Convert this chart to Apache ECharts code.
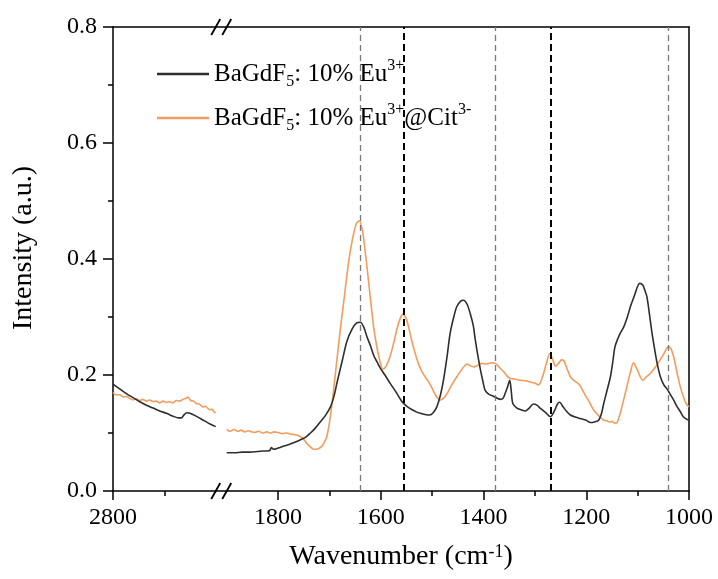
<!DOCTYPE html>
<html>
<head>
<meta charset="utf-8">
<script src="https://cdn.jsdelivr.net/npm/echarts@6/dist/echarts.min.js"></script>
<style>
  html, body { margin: 0; padding: 0; background: #fff; }
  #chart { width: 718px; height: 579px; }
</style>
</head>
<body>
<div id="chart"></div>
<script>
// ---- axis ticks and reference lines (cm^-1) ----
const highTicks = [2800];
const lowTicks = [1000, 1200, 1400, 1600, 1800];
const lowMinorTicks = [1100, 1300, 1500, 1700];
const greyBands = [1640, 1377, 1040];
const blackBands = [1556, 1270];

// ---- legend entries ----
const seriesNames = ['BaGdF5: 10% Eu3+', 'BaGdF5: 10% Eu3+@Cit3-'];
const legendLabels = ['BaGdF{sub|5}: 10% Eu{sup|3+}', 'BaGdF{sub|5}: 10% Eu{sup|3+}@Cit{sup|3-}'];

// ---- BaGdF5: 10% Eu3+ spectrum, [wavenumber, intensity] ----
const bareHigh = [
  [2800, 0.184], [2787, 0.176], [2774, 0.168], [2761, 0.161], [2748, 0.154], [2735, 0.148],
  [2722, 0.143], [2709, 0.138], [2696, 0.134], [2683, 0.129], [2672, 0.126], [2667, 0.126],
  [2662, 0.131], [2656, 0.135], [2650, 0.134], [2640, 0.130], [2630, 0.125], [2620, 0.120],
  [2610, 0.115], [2600, 0.111]
];
const bareLow = [
  [1900, 0.066], [1885, 0.066], [1870, 0.067], [1855, 0.067], [1840, 0.068], [1828, 0.069],
  [1820, 0.069], [1816, 0.070], [1813, 0.075], [1809, 0.072], [1800, 0.074], [1790, 0.077],
  [1783, 0.079], [1770, 0.083], [1757, 0.088], [1746, 0.093], [1737, 0.100], [1728, 0.108],
  [1718, 0.119], [1708, 0.130], [1698, 0.145], [1691, 0.164], [1685, 0.188], [1675, 0.225],
  [1666, 0.258], [1656, 0.279], [1647, 0.290], [1640, 0.291], [1633, 0.282], [1627, 0.266],
  [1620, 0.250], [1614, 0.234], [1607, 0.222], [1601, 0.212], [1592, 0.200], [1582, 0.186],
  [1570, 0.170], [1557, 0.152], [1548, 0.145], [1539, 0.140], [1530, 0.136], [1523, 0.134],
  [1514, 0.132], [1505, 0.131], [1498, 0.135], [1491, 0.145], [1484, 0.165], [1478, 0.191],
  [1471, 0.232], [1465, 0.272], [1458, 0.300], [1452, 0.318], [1445, 0.327], [1439, 0.329],
  [1432, 0.322], [1426, 0.306], [1420, 0.285], [1416, 0.260], [1411, 0.233], [1406, 0.209],
  [1401, 0.188], [1397, 0.174], [1390, 0.167], [1380, 0.163], [1367, 0.158], [1362, 0.160],
  [1358, 0.168], [1353, 0.180], [1349, 0.191], [1346, 0.172], [1343, 0.151], [1335, 0.143],
  [1327, 0.140], [1319, 0.138], [1311, 0.143], [1303, 0.150], [1296, 0.148], [1290, 0.143],
  [1280, 0.136], [1270, 0.128], [1262, 0.138], [1256, 0.150], [1252, 0.153], [1245, 0.145],
  [1238, 0.137], [1231, 0.131], [1220, 0.127], [1212, 0.125], [1200, 0.122], [1192, 0.118],
  [1184, 0.119], [1176, 0.122], [1170, 0.135], [1166, 0.151], [1160, 0.172], [1153, 0.197],
  [1148, 0.225], [1144, 0.249], [1135, 0.270], [1127, 0.283], [1120, 0.300], [1114, 0.318],
  [1105, 0.340], [1100, 0.353], [1096, 0.358], [1090, 0.355], [1086, 0.346], [1082, 0.335],
  [1077, 0.305], [1072, 0.272], [1067, 0.245], [1062, 0.220], [1056, 0.198], [1049, 0.183],
  [1042, 0.175], [1036, 0.166], [1030, 0.157], [1023, 0.145], [1017, 0.137], [1011, 0.128],
  [1005, 0.124], [1000, 0.122]
];

// ---- BaGdF5: 10% Eu3+@Cit3- spectrum, [wavenumber, intensity] ----
const citHigh = [
  [2800, 0.170], [2795, 0.166], [2787, 0.166], [2780, 0.162], [2774, 0.163], [2768, 0.160],
  [2761, 0.157], [2755, 0.159], [2748, 0.156], [2742, 0.158], [2735, 0.155], [2729, 0.157],
  [2722, 0.154], [2716, 0.155], [2709, 0.152], [2703, 0.155], [2696, 0.153], [2690, 0.154],
  [2683, 0.152], [2677, 0.156], [2670, 0.155], [2664, 0.158], [2658, 0.160], [2654, 0.162],
  [2649, 0.156], [2643, 0.155], [2638, 0.151], [2632, 0.150], [2625, 0.145], [2620, 0.146],
  [2612, 0.140], [2607, 0.141], [2602, 0.135], [2600, 0.136]
];
const citLow = [
  [1900, 0.106], [1893, 0.103], [1886, 0.106], [1879, 0.103], [1872, 0.105], [1865, 0.102],
  [1858, 0.104], [1852, 0.102], [1845, 0.101], [1838, 0.103], [1830, 0.100], [1822, 0.102],
  [1815, 0.100], [1808, 0.102], [1800, 0.101], [1792, 0.099], [1783, 0.100], [1775, 0.098],
  [1766, 0.097], [1757, 0.094], [1750, 0.089], [1744, 0.082], [1737, 0.076], [1731, 0.072],
  [1722, 0.073], [1715, 0.077], [1710, 0.084], [1705, 0.094], [1698, 0.130], [1692, 0.174],
  [1685, 0.230], [1679, 0.278], [1671, 0.335], [1663, 0.393], [1655, 0.435], [1648, 0.460],
  [1642, 0.466], [1636, 0.450], [1632, 0.425], [1627, 0.387], [1620, 0.330], [1614, 0.283],
  [1608, 0.250], [1604, 0.232], [1600, 0.218], [1596, 0.210], [1590, 0.215], [1582, 0.232],
  [1575, 0.255], [1569, 0.278], [1562, 0.298], [1557, 0.305], [1551, 0.298], [1546, 0.283],
  [1540, 0.260], [1533, 0.237], [1527, 0.220], [1520, 0.206], [1513, 0.196], [1507, 0.188],
  [1500, 0.177], [1494, 0.166], [1488, 0.159], [1484, 0.157], [1478, 0.160], [1471, 0.168],
  [1462, 0.183], [1452, 0.197], [1442, 0.210], [1432, 0.219], [1426, 0.216], [1419, 0.214],
  [1411, 0.217], [1403, 0.220], [1395, 0.219], [1385, 0.221], [1377, 0.220], [1369, 0.213],
  [1361, 0.206], [1355, 0.199], [1348, 0.194], [1340, 0.193], [1329, 0.191], [1318, 0.190],
  [1306, 0.187], [1300, 0.186], [1293, 0.183], [1288, 0.190], [1283, 0.203], [1277, 0.222],
  [1271, 0.237], [1265, 0.226], [1260, 0.215], [1254, 0.220], [1248, 0.226], [1244, 0.225],
  [1237, 0.210], [1231, 0.197], [1225, 0.191], [1218, 0.187], [1212, 0.182], [1205, 0.170],
  [1195, 0.155], [1186, 0.140], [1176, 0.130], [1166, 0.122], [1160, 0.121], [1155, 0.119],
  [1150, 0.120], [1145, 0.117], [1140, 0.118], [1134, 0.134], [1127, 0.158], [1121, 0.180],
  [1114, 0.205], [1108, 0.221], [1102, 0.212], [1096, 0.199], [1090, 0.191], [1084, 0.196],
  [1075, 0.203], [1066, 0.213], [1056, 0.226], [1048, 0.238], [1040, 0.249], [1035, 0.245],
  [1030, 0.232], [1024, 0.207], [1017, 0.180], [1010, 0.160], [1005, 0.150], [1000, 0.145]
];

// ---- layout ----
const FONT = 'Liberation Serif';
const PLOT_LEFT = 113, PLOT_TOP = 27, PLOT_W = 576, PLOT_H = 464;
const BREAK_GAP = 11;                       // px between the two wavenumber segments
const HIGH_SPAN = 200, LOW_SPAN = 900;      // 2800-2600 and 1900-1000
const pxPerUnit = (PLOT_W - BREAK_GAP) / (HIGH_SPAN + LOW_SPAN);
const highW = HIGH_SPAN * pxPerUnit;
const lowLeft = PLOT_LEFT + highW + BREAK_GAP;
const lowW = LOW_SPAN * pxPerUnit;

const BLACK = '#2e2e2e';
const ORANGE = '#F09D5E';

const tickLabel = { fontFamily: FONT, fontSize: 24, color: '#000', formatter: v => String(v) };
const hiddenY = { type: 'value', min: 0, max: 0.8, show: false };
const gridBase = { top: PLOT_TOP, height: PLOT_H, outerBoundsMode: 'none', containLabel: false };

const chart = echarts.init(document.getElementById('chart'), null, { renderer: 'canvas' });

chart.setOption({
  animation: false,
  backgroundColor: '#fff',
  textStyle: { fontFamily: FONT },
  grid: [
    Object.assign({ left: PLOT_LEFT, width: PLOT_W }, gridBase),   // frame
    Object.assign({ left: PLOT_LEFT, width: highW }, gridBase),    // 2800-2600
    Object.assign({ left: lowLeft, width: lowW }, gridBase),       // 1900-1000 major
    Object.assign({ left: lowLeft, width: lowW }, gridBase)        // 1900-1000 minor ticks
  ],
  xAxis: [
    {
      gridIndex: 0, type: 'value', min: 0, max: 1, position: 'bottom',
      axisLine: { onZero: false, lineStyle: { color: '#000', width: 1.5 } },
      axisTick: { show: false }, axisLabel: { show: false }, splitLine: { show: false },
      name: 'Wavenumber (cm{sup|-1})', nameLocation: 'middle', nameGap: 52,
      nameTextStyle: {
        fontFamily: FONT, fontSize: 28, color: '#000',
        rich: { sup: { fontFamily: FONT, fontSize: 18, color: '#000', lineHeight: 16, verticalAlign: 'top' } }
      }
    },
    {
      gridIndex: 0, type: 'value', min: 0, max: 1, position: 'top',
      axisLine: { onZero: false, lineStyle: { color: '#000', width: 1.5 } },
      axisTick: { show: false }, axisLabel: { show: false }, splitLine: { show: false }
    },
    {
      gridIndex: 1, type: 'value', min: 2600, max: 2800, interval: 200, inverse: true,
      position: 'bottom',
      axisLine: { show: false, onZero: false },
      axisTick: { show: true, inside: false, length: 9, customValues: highTicks,
                  lineStyle: { color: '#000', width: 1.5 } },
      minorTick: { show: true, splitNumber: 2, length: 5, lineStyle: { color: '#000', width: 1.5 } },
      axisLabel: Object.assign({ margin: 15, customValues: highTicks }, tickLabel),
      splitLine: { show: false }
    },
    {
      gridIndex: 2, type: 'value', min: 1000, max: 1900, interval: 200, inverse: true,
      position: 'bottom',
      axisLine: { show: false, onZero: false },
      axisTick: { show: true, inside: false, length: 9, customValues: lowTicks,
                  lineStyle: { color: '#000', width: 1.5 } },
      axisLabel: Object.assign({ margin: 15, customValues: lowTicks }, tickLabel),
      splitLine: { show: false }
    },
    {
      gridIndex: 3, type: 'value', min: 1000, max: 1900, interval: 100, inverse: true,
      position: 'bottom',
      axisLine: { show: false, onZero: false },
      axisTick: { show: true, inside: false, length: 5, customValues: lowMinorTicks,
                  lineStyle: { color: '#000', width: 1.5 } },
      axisLabel: { show: false },
      splitLine: { show: false }
    }
  ],
  yAxis: [
    {
      gridIndex: 0, type: 'value', min: 0, max: 0.8, interval: 0.2, position: 'left',
      axisLine: { show: true, onZero: false, lineStyle: { color: '#000', width: 1.5 } },
      axisTick: { show: true, inside: false, length: 10, lineStyle: { color: '#000', width: 1.5 } },
      minorTick: { show: true, splitNumber: 2, length: 5, lineStyle: { color: '#000', width: 1.5 } },
      axisLabel: { margin: 16, fontFamily: FONT, fontSize: 24, color: '#000', formatter: v => v.toFixed(1) },
      splitLine: { show: false },
      name: 'Intensity (a.u.)', nameLocation: 'middle', nameGap: 75,
      nameTextStyle: { fontFamily: FONT, fontSize: 28, color: '#000', padding: [0, 0, 0, 22] }
    },
    {
      gridIndex: 0, type: 'value', min: 0, max: 0.8, position: 'right',
      axisLine: { show: true, onZero: false, lineStyle: { color: '#000', width: 1.5 } },
      axisTick: { show: false }, axisLabel: { show: false }, splitLine: { show: false }
    },
    Object.assign({ gridIndex: 1 }, hiddenY),
    Object.assign({ gridIndex: 2 }, hiddenY),
    Object.assign({ gridIndex: 3 }, hiddenY)
  ],
  legend: {
    orient: 'vertical', left: 152, top: 53, itemGap: 12,
    icon: 'rect', itemWidth: 52, itemHeight: 2.5,
    data: seriesNames,
    formatter: name => legendLabels[seriesNames.indexOf(name)],
    textStyle: {
      fontFamily: FONT, fontSize: 25, color: '#000', lineHeight: 32,
      rich: {
        sub: { fontFamily: FONT, fontSize: 16, color: '#000', lineHeight: 18, verticalAlign: 'bottom' },
        sup: { fontFamily: FONT, fontSize: 16, color: '#000', lineHeight: 16, verticalAlign: 'top' }
      }
    }
  },
  series: [
    {
      name: seriesNames[0], type: 'line', xAxisIndex: 2, yAxisIndex: 2, data: bareHigh,
      showSymbol: false, symbol: 'none', smooth: 0.3, color: BLACK,
      lineStyle: { color: BLACK, width: 1.6 }, z: 3
    },
    {
      name: seriesNames[1], type: 'line', xAxisIndex: 2, yAxisIndex: 2, data: citHigh,
      showSymbol: false, symbol: 'none', smooth: 0.2, color: ORANGE,
      lineStyle: { color: ORANGE, width: 1.6 }, z: 2
    },
    {
      name: seriesNames[0], type: 'line', xAxisIndex: 3, yAxisIndex: 3, data: bareLow,
      showSymbol: false, symbol: 'none', smooth: 0.3, color: BLACK,
      lineStyle: { color: BLACK, width: 1.6 }, z: 3,
      markLine: {
        silent: true, symbol: ['none', 'none'], label: { show: false }, animation: false,
        data: greyBands.map(v => ({ xAxis: v, lineStyle: { color: '#7a7a7a', width: 1.3, type: [6, 4] } }))
          .concat(blackBands.map(v => ({ xAxis: v, lineStyle: { color: '#000', width: 2, type: [7, 4] } })))
      }
    },
    {
      name: seriesNames[1], type: 'line', xAxisIndex: 3, yAxisIndex: 3, data: citLow,
      showSymbol: false, symbol: 'none', smooth: 0.3, color: ORANGE,
      lineStyle: { color: ORANGE, width: 1.6 }, z: 2
    }
  ]
});

// axis-break marks on the bottom and top frame lines
const xBreakA = chart.convertToPixel({ xAxisIndex: 2 }, 2600);
const xBreakB = chart.convertToPixel({ xAxisIndex: 3 }, 1900);
const yBottom = chart.convertToPixel({ yAxisIndex: 0 }, 0);
const yTop = chart.convertToPixel({ yAxisIndex: 0 }, 0.8);
const slash = (cx, cy) => ({
  type: 'line', z: 100,
  shape: { x1: cx - 4.5, y1: cy + 8, x2: cx + 4.5, y2: cy - 8 },
  style: { stroke: '#000', lineWidth: 1.8 }
});
chart.setOption({
  graphic: [
    slash(xBreakA, yBottom), slash(xBreakB, yBottom),
    slash(xBreakA, yTop), slash(xBreakB, yTop)
  ]
});
</script>
</body>
</html>
